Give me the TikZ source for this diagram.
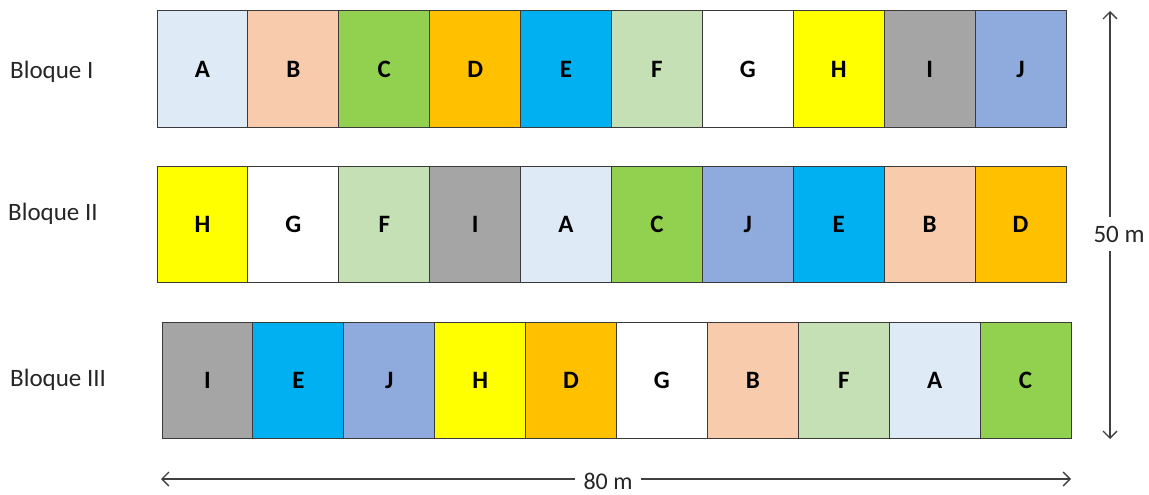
\documentclass[tikz,border=0pt]{standalone}
\usepackage{fontspec}
\setmainfont{Carlito}
\usetikzlibrary{arrows.meta}
\definecolor{cA}{HTML}{DEEBF7}
\definecolor{cB}{HTML}{F8CBAD}
\definecolor{cC}{HTML}{92D050}
\definecolor{cD}{HTML}{FFC000}
\definecolor{cE}{HTML}{00B0F0}
\definecolor{cF}{HTML}{C5E0B4}
\definecolor{cG}{HTML}{FFFFFF}
\definecolor{cH}{HTML}{FFFF00}
\definecolor{cI}{HTML}{A5A5A5}
\definecolor{cJ}{HTML}{8FAADC}
\definecolor{edge}{HTML}{3A3A3A}
\definecolor{arr}{HTML}{404040}
\tikzset{
  plot/.style={draw=edge, line width=1pt, minimum width=90.9pt, minimum height=116pt,
    inner sep=0pt, outer sep=0pt, anchor=north west, font=\bfseries\fontsize{25}{25}\selectfont},
  blk/.style={anchor=west, inner sep=0pt, font=\fontsize{25}{25}\selectfont, text=black!85},
  dim/.style={draw=arr, line width=1.3pt, {Straight Barb[length=7pt,width=14pt,line width=1.3pt]}-{Straight Barb[length=7pt,width=14pt,line width=1.3pt]}},
  dimlbl/.style={fill=white, inner xsep=9pt, inner ysep=9pt, font=\fontsize{25}{25}\selectfont, text=black!85}
}
\begin{document}
\begin{tikzpicture}[x=1pt,y=-1pt]
\useasboundingbox (0,0) rectangle (1149,495);
% row 1
\foreach \l [count=\i from 0] in {A,B,C,D,E,F,G,H,I,J}
  \node[plot, fill=c\l] (r1-\l) at (157+90.9*\i,11) {\l};
% row 2
\foreach \l [count=\i from 0] in {H,G,F,I,A,C,J,E,B,D}
  \node[plot, fill=c\l] (r2-\l) at (157+90.9*\i,166) {\l};
% row 3
\foreach \l [count=\i from 0] in {I,E,J,H,D,G,B,F,A,C}
  \node[plot, fill=c\l] (r3-\l) at (162+90.9*\i,322) {\l};
% block labels
\node[blk] (b1) at (10,72) {Bloque I};
\node[blk] (b2) at (8,214) {Bloque II};
\node[blk] (b3) at (10,380) {Bloque III};
% dimension arrows
\coordinate (vt) at (1110,11);
\coordinate (vb) at (1110,439);
\coordinate (hl) at (161,479);
\coordinate (hr) at (1071,479);
\draw[dim] (vt) -- (vb);
\draw[dim] (hl) -- (hr);
\node[dimlbl] (h50) at (1119,234) {50 m};
\node[dimlbl, inner ysep=1pt, font=\fontsize{24}{24}\selectfont] (w80) at (608,481) {80 m};
\end{tikzpicture}
\end{document}
